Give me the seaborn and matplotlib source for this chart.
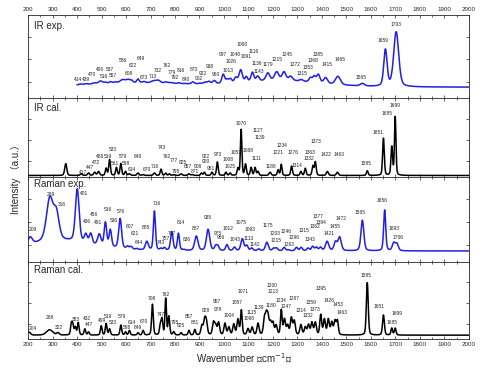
import numpy as np
import pandas as pd
import matplotlib
matplotlib.use("Agg")
import matplotlib.pyplot as plt
from matplotlib.ticker import MultipleLocator
import seaborn as sns

# ==============================================================================
# Spectral data: band centre (cm-1), height, FWHM (cm-1)
# heights are in panel units (0 = panel bottom, 1 = panel top)
# ==============================================================================

# IR exp. (blue, starts at 400 cm-1)
ir_exp_base = 0.13
ir_exp_centers = [650, 1230, 414, 439, 470, 496, 516, 537, 557, 586, 608, 622, 649, 673,
                  713, 732, 762, 779, 792, 816, 840, 873, 902, 922, 938, 960, 997, 1013,
                  1026, 1048, 1068, 1091, 1116, 1136, 1143, 1179, 1215, 1245, 1272, 1315,
                  1353, 1368, 1385, 1415, 1465, 1565, 1659, 1703]
ir_exp_heights = [0.05, 0.08, 0.01, 0.01, 0.015, 0.035, 0.015, 0.02, 0.015, 0.04, 0.035, 0.025,
                  0.045, 0.015, 0.025, 0.03, 0.015, 0.01, 0.005, 0.01, 0.005, 0.025, 0.01, 0.02,
                  0.03, 0.04, 0.11, 0.04, 0.05, 0.06, 0.15, 0.06, 0.11, 0.05, 0.02, 0.09, 0.1,
                  0.1, 0.05, 0.02, 0.05, 0.07, 0.1, 0.07, 0.1, 0.03, 0.44, 0.66]
ir_exp_widths = [500, 380, 20, 20, 20, 20, 15, 15, 15, 25, 20, 15, 12, 15,
                 25, 20, 15, 15, 15, 15, 15, 15, 15, 15, 15, 15, 14, 12,
                 14, 14, 16, 12, 14, 12, 10, 18, 20, 18, 18, 16,
                 14, 14, 16, 18, 24, 20, 16, 24]
ir_exp_labels = [414, 439, 470, 496, 516, 537, 557, 586, 608, 622, 649, 673, 713, 732, 762,
                 779, 792, 816, 840, 873, 902, 922, 938, 960, 997, 1013, 1026, 1048, 1068,
                 1091, 1116, 1136, 1143, 1179, 1215, 1245, 1272, 1315, 1353, 1368, 1385,
                 1415, 1465, 1565, 1659, 1703]

# IR cal. (black)
ir_cal_base = 0.02
ir_cal_centers = [354, 417, 447, 472, 488, 519, 533, 561, 579, 598, 614, 649, 670, 716, 743,
                  762, 777, 795, 825, 857, 871, 908, 920, 951, 973, 1008, 1025, 1057, 1070,
                  1088, 1111, 1127, 1139, 1188, 1221, 1234, 1276, 1314, 1332, 1363, 1373,
                  1422, 1463, 1585, 1651, 1685, 1699]
ir_cal_heights = [0.15, 0.02, 0.03, 0.04, 0.05, 0.09, 0.2, 0.1, 0.15, 0.05, 0.02, 0.03, 0.01,
                  0.03, 0.08, 0.03, 0.02, 0.01, 0.02, 0.02, 0.01, 0.03, 0.04, 0.04, 0.17,
                  0.04, 0.03, 0.09, 0.58, 0.14, 0.1, 0.1, 0.05, 0.04, 0.07, 0.14, 0.12, 0.05,
                  0.09, 0.12, 0.17, 0.05, 0.04, 0.06, 0.47, 0.36, 0.74]
ir_cal_widths = [10, 10, 10, 10, 10, 8, 8, 8, 8, 8, 10, 10, 10, 10, 8,
                 8, 8, 10, 10, 10, 10, 8, 8, 8, 8, 8, 8, 8, 7,
                 8, 8, 8, 8, 10, 8, 7, 8, 8, 8, 8, 8,
                 10, 10, 8, 8, 8, 7]
ir_cal_labels = [417, 447, 472, 488, 519, 533, 561, 579, 598, 614, 649, 670, 716, 743, 762,
                 777, 795, 825, 857, 871, 908, 920, 922, 951, 973, 1008, 1025, 1057, 1070,
                 1088, 1111, 1127, 1139, 1188, 1221, 1234, 1276, 1314, 1332, 1363, 1373,
                 1422, 1463, 1585, 1651, 1685, 1699]

# Raman exp. (blue)
ra_exp_base = 0.13
ra_exp_centers = [330, 209, 289, 316, 401, 436, 456, 491, 516, 536, 576, 607, 621, 644, 685,
                  716, 743, 757, 787, 814, 836, 887, 935, 966, 975, 1012, 1043, 1075, 1093,
                  1113, 1142, 1175, 1203, 1215, 1246, 1263, 1296, 1315, 1343, 1362, 1377,
                  1394, 1421, 1455, 1472, 1565, 1656, 1693, 1706]
ra_exp_heights = [0.12, 0.08, 0.5, 0.3, 0.62, 0.1, 0.12, 0.13, 0.28, 0.2, 0.35, 0.03, 0.03,
                  0.01, 0.1, 0.46, 0.02, 0.03, 0.22, 0.2, 0.01, 0.17, 0.25, 0.05, 0.05, 0.07,
                  0.04, 0.14, 0.06, 0.03, 0.02, 0.1, 0.03, 0.03, 0.04, 0.01, 0.04, 0.04, 0.03,
                  0.05, 0.04, 0.04, 0.11, 0.1, 0.16, 0.36, 0.48, 0.09, 0.08]
ra_exp_widths = [320, 20, 32, 26, 18, 14, 14, 16, 12, 12, 14, 12, 12, 12, 14,
                 10, 10, 10, 12, 10, 12, 16, 16, 12, 12, 12, 12, 14, 12,
                 12, 12, 14, 12, 12, 12, 10, 12, 12, 12, 12, 12,
                 12, 16, 14, 16, 14, 10, 14, 14]
ra_exp_labels = [209, 289, 316, 401, 436, 456, 491, 516, 536, 576, 607, 621, 644, 685, 716,
                 743, 757, 787, 814, 836, 887, 935, 975, 966, 1012, 1043, 1075, 1093, 1113,
                 1142, 1175, 1203, 1215, 1246, 1263, 1296, 1315, 1343, 1362, 1377, 1394,
                 1421, 1455, 1472, 1565, 1656, 1693, 1706]

# Raman cal. (black)
ra_cal_base = 0.05
ra_cal_centers = [204, 288, 322, 377, 383, 393, 405, 432, 447, 499, 519, 533, 579, 598, 614,
                  649, 670, 708, 740, 747, 762, 775, 795, 825, 857, 881, 910, 921, 928, 957,
                  966, 978, 1004, 1020, 1040, 1057, 1071, 1098, 1115, 1139, 1165, 1173, 1180,
                  1190, 1200, 1213, 1234, 1247, 1260, 1275, 1287, 1314, 1332, 1345, 1359,
                  1373, 1395, 1410, 1426, 1440, 1453, 1463, 1585, 1651, 1685, 1699]
ra_cal_heights = [0.04, 0.07, 0.03, 0.14, 0.12, 0.1, 0.16, 0.08, 0.04, 0.12, 0.15, 0.08, 0.13,
                  0.04, 0.06, 0.03, 0.06, 0.4, 0.12, 0.2, 0.47, 0.24, 0.04, 0.03, 0.06, 0.07,
                  0.12, 0.18, 0.16, 0.16, 0.12, 0.16, 0.15, 0.1, 0.14, 0.2, 0.32, 0.08, 0.1,
                  0.15, 0.2, 0.22, 0.2, 0.15, 0.15, 0.12, 0.32, 0.2, 0.12, 0.22, 0.18, 0.13,
                  0.1, 0.13, 0.16, 0.16, 0.26, 0.2, 0.2, 0.16, 0.18, 0.18, 0.68, 0.26, 0.09,
                  0.09]
ra_cal_widths = [14, 30, 12, 8, 8, 8, 8, 8, 8, 8, 8, 8, 8, 8, 8,
                 8, 8, 8, 8, 8, 7, 8, 8, 8, 8, 8, 10, 10, 10, 10,
                 10, 10, 10, 10, 10, 10, 8, 10, 10, 10, 10, 10, 10,
                 10, 10, 10, 8, 10, 10, 10, 10, 10, 10, 10, 10,
                 10, 9, 10, 10, 10, 10, 9, 9, 9, 8, 8]
ra_cal_labels = [204, 288, 322, 383, 432, 447, 499, 519, 533, 579, 598, 614, 649, 670, 708,
                 747, 762, 795, 825, 857, 881, 928, 957, 978, 1004, 1057, 1071, 1098, 1115,
                 1139, 1180, 1200, 1213, 1234, 1247, 1287, 1314, 1332, 1359, 1373, 1395,
                 1426, 1453, 1463, 1585, 1651, 1685, 1699]

# ==============================================================================
# Peak-label placement (wavenumber of label centre, height in panel units)
# ==============================================================================
ir_exp_label_x = [405, 437, 460, 494, 510, 535, 545, 589, 613, 630, 660, 673, 711, 728, 766,
                  788, 800, 826, 845, 875, 899, 913, 943, 966, 997, 1018, 1031, 1045, 1072,
                  1090, 1120, 1133, 1144, 1181, 1215, 1258, 1290, 1317, 1344, 1362, 1385,
                  1419, 1473, 1558, 1648, 1701]
ir_exp_label_y = [0.22, 0.23, 0.29, 0.34, 0.26, 0.35, 0.27, 0.45, 0.30, 0.39, 0.48, 0.245,
                  0.26, 0.33, 0.39, 0.31, 0.25, 0.33, 0.22, 0.35, 0.24, 0.30, 0.38, 0.29,
                  0.53, 0.33, 0.44, 0.53, 0.64, 0.50, 0.56, 0.42, 0.32, 0.40, 0.46, 0.52,
                  0.40, 0.30, 0.365, 0.45, 0.52, 0.40, 0.47, 0.245, 0.69, 0.89]
ir_cal_label_x = [424, 452, 479, 493, 527, 544, 556, 588, 601, 622, 649, 686, 717, 748, 765,
                  795, 805, 833, 853, 880, 894, 925, 925, 948, 973, 1016, 1023, 1048, 1071,
                  1098, 1132, 1139, 1146, 1193, 1220, 1237, 1282, 1299, 1346, 1350, 1377,
                  1418, 1468, 1582, 1630, 1664, 1698]
ir_cal_label_y = [0.06, 0.12, 0.19, 0.26, 0.26, 0.355, 0.17, 0.26, 0.17, 0.09, 0.26, 0.09,
                  0.14, 0.38, 0.26, 0.215, 0.07, 0.18, 0.13, 0.07, 0.13, 0.20, 0.26, 0.11,
                  0.29, 0.22, 0.14, 0.31, 0.68, 0.34, 0.23, 0.59, 0.50, 0.13, 0.31, 0.405,
                  0.31, 0.15, 0.23, 0.31, 0.45, 0.29, 0.29, 0.17, 0.56, 0.81, 0.91]
ra_exp_label_x = [220, 295, 340, 429, 442, 468, 486, 527, 551, 578, 615, 635, 653, 683, 724,
                  744, 762, 788, 826, 850, 887, 935, 975, 986, 1016, 1044, 1071, 1105, 1100,
                  1125, 1180, 1207, 1214, 1254, 1265, 1288, 1326, 1350, 1370, 1386, 1397,
                  1431, 1452, 1479, 1555, 1644, 1694, 1711]
ra_exp_label_y = [0.38, 0.79, 0.675, 0.81, 0.48, 0.56, 0.47, 0.615, 0.49, 0.60, 0.42, 0.33,
                  0.235, 0.41, 0.69, 0.23, 0.28, 0.34, 0.47, 0.26, 0.39, 0.525, 0.34, 0.29,
                  0.40, 0.27, 0.46, 0.38, 0.28, 0.21, 0.43, 0.33, 0.25, 0.36, 0.21, 0.29,
                  0.37, 0.27, 0.42, 0.54, 0.47, 0.33, 0.42, 0.51, 0.58, 0.72, 0.40, 0.29]
ra_cal_label_x = [220, 288, 327, 397, 441, 449, 502, 527, 544, 585, 604, 622, 649, 673, 707,
                  744, 762, 799, 826, 857, 883, 925, 969, 975, 1020, 1054, 1080, 1101, 1112,
                  1144, 1190, 1197, 1200, 1234, 1254, 1288, 1316, 1343, 1356, 1370, 1397,
                  1431, 1465, 1483, 1580, 1634, 1688, 1705]
ra_cal_label_y = [0.14, 0.28, 0.15, 0.25, 0.27, 0.185, 0.24, 0.29, 0.22, 0.29, 0.15, 0.21,
                  0.15, 0.23, 0.53, 0.32, 0.58, 0.22, 0.17, 0.29, 0.21, 0.37, 0.485, 0.38,
                  0.31, 0.48, 0.62, 0.26, 0.34, 0.41, 0.44, 0.70, 0.62, 0.50, 0.42, 0.53,
                  0.37, 0.30, 0.48, 0.38, 0.65, 0.50, 0.45, 0.34, 0.82, 0.42, 0.22, 0.33]

# ==============================================================================
# Build spectra (pseudo-Voigt bands on the read-off baseline)
# ==============================================================================
wavenumber = np.arange(200, 2001, 1.0)


def spectrum(base, centers, heights, widths, eta=0.4, start=200):
    x = wavenumber[wavenumber >= start]
    y = np.full_like(x, base)
    for c, h, w in zip(centers, heights, widths):
        g = np.exp(-4 * np.log(2) * ((x - c) / w) ** 2)
        l = 1 / (1 + 4 * ((x - c) / w) ** 2)
        y += h * ((1 - eta) * g + eta * l)
    return pd.DataFrame({'Wavenumber': x, 'Intensity': y})


panels = [
    ('IR exp.', 0.867,
     spectrum(ir_exp_base, ir_exp_centers, ir_exp_heights, ir_exp_widths, 0.35, 400),
     ir_exp_labels, ir_exp_label_x, ir_exp_label_y, '#1f1fe6'),
    ('IR cal.', 0.877,
     spectrum(ir_cal_base, ir_cal_centers, ir_cal_heights, ir_cal_widths, 0.3),
     ir_cal_labels, ir_cal_label_x, ir_cal_label_y, '#000000'),
    ('Raman exp.', 0.918,
     spectrum(ra_exp_base, ra_exp_centers, ra_exp_heights, ra_exp_widths, 0.35),
     ra_exp_labels, ra_exp_label_x, ra_exp_label_y, '#1f1fe6'),
    ('Raman cal.', 0.896,
     spectrum(ra_cal_base, ra_cal_centers, ra_cal_heights, ra_cal_widths, 0.3),
     ra_cal_labels, ra_cal_label_x, ra_cal_label_y, '#000000'),
]

# ==============================================================================
# Plot
# ==============================================================================
sns.set_theme(style='ticks')
plt.rcParams['font.family'] = ['Liberation Sans', 'Noto Sans CJK SC', 'DejaVu Sans']

fig = plt.figure(figsize=(4.89, 3.69), dpi=100)
gs = fig.add_gridspec(4, 1, height_ratios=[83, 79, 85, 77], hspace=0,
                      left=0.0573, right=0.959, bottom=0.0813, top=0.959)

for i, (name, title_y, df, labels, label_x, label_y, color) in enumerate(panels):
    ax = fig.add_subplot(gs[i])
    sns.lineplot(data=df, x='Wavenumber', y='Intensity', ax=ax, color=color,
                 linewidth=1.1, estimator=None)
    ax.set_xlim(200, 2000)
    ax.set_ylim(0, 1)
    ax.set_xlabel('')
    ax.set_ylabel('')
    ax.xaxis.set_major_locator(MultipleLocator(100))
    ax.xaxis.set_minor_locator(MultipleLocator(50))
    ax.set_yticks([0.2, 0.47, 0.74])
    ax.tick_params(axis='both', which='both', direction='in', top=True, right=True,
                   labelleft=False, labelsize=4.5, pad=2, width=0.5, length=2)
    ax.tick_params(axis='both', which='minor', length=1.2)
    ax.tick_params(axis='x', labelbottom=(i == 3), labeltop=(i == 0))
    for s in ax.spines.values():
        s.set_linewidth(0.6)
    ax.text(0.013, title_y, name, transform=ax.transAxes, fontsize=7, va='center', ha='left')
    for lab, lx, ly in zip(labels, label_x, label_y):
        ax.text(lx, ly, str(lab), fontsize=3.5, ha='center', va='center', color='#222222')

fig.text(0.5, 0.012, 'Wavenumber （cm$^{-1}$）', ha='center', va='bottom', fontsize=7)
fig.text(0.021, 0.52, 'Intensity （a.u.）', ha='left', va='center', rotation=90, fontsize=7)

fig.savefig('out.png', dpi=100)
